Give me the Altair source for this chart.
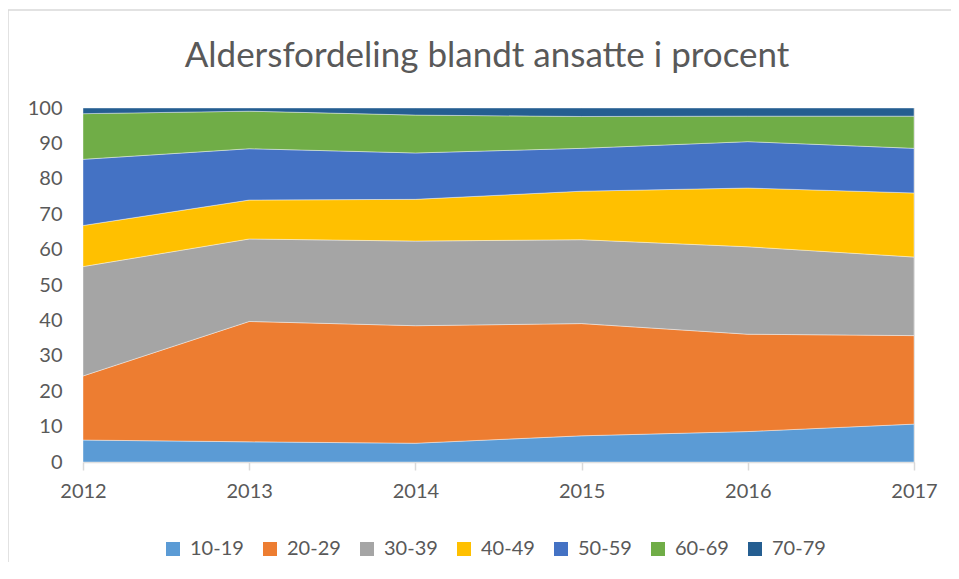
import altair as alt
import pandas as pd

years = [2012, 2013, 2014, 2015, 2016, 2017]
groups = ["10-19", "20-29", "30-39", "40-49", "50-59", "60-69", "70-79"]
colors = ["#5b9bd5", "#ed7d31", "#a5a5a5", "#ffc000", "#4472c4", "#70ad47", "#255e91"]

v_10_19 = [6.2, 5.7, 5.3, 7.4, 8.6, 10.7]
v_20_29 = [18.1, 34.0, 33.2, 31.7, 27.5, 25.0]
v_30_39 = [30.9, 23.3, 23.9, 23.7, 24.7, 22.2]
v_40_49 = [11.6, 11.0, 11.8, 13.7, 16.6, 18.1]
v_50_59 = [18.7, 14.5, 13.1, 12.1, 13.1, 12.6]
v_60_69 = [12.9, 10.6, 10.7, 9.0, 7.2, 9.1]
v_70_79 = [1.6, 0.9, 2.0, 2.4, 2.3, 2.3]

series = [v_10_19, v_20_29, v_30_39, v_40_49, v_50_59, v_60_69, v_70_79]
rows = []
for gi, (g, vals) in enumerate(zip(groups, series)):
    for y, v in zip(years, vals):
        rows.append({"year": y, "group": g, "value": v, "order": gi})
df = pd.DataFrame(rows)

FONT = "Lato"
GREY = "#595959"
W, H = 831, 354

areas = alt.Chart(df).mark_area(
    stroke="#ffffff", strokeWidth=0.8, strokeOpacity=0.5
).encode(
    x=alt.X("year:Q", scale=alt.Scale(domain=[2012, 2017], nice=False, zero=False),
            axis=alt.Axis(values=years, format="d", title=None, grid=False,
                          domain=True, domainColor="#d9d9d9", domainWidth=1.5,
                          ticks=True, tickColor="#d9d9d9", tickSize=8, tickWidth=1.5,
                          labelFont=FONT, labelFontSize=20, labelColor=GREY,
                          labelPadding=11, labelFlush=False)),
    y=alt.Y("value:Q", stack="zero",
            scale=alt.Scale(domain=[0, 100], nice=False),
            axis=alt.Axis(values=list(range(0, 101, 10)), title=None, grid=True,
                          gridColor="#d9d9d9", gridWidth=1, domain=False, ticks=False,
                          labelFont=FONT, labelFontSize=20, labelColor=GREY,
                          labelPadding=21, labelFlush=False)),
    color=alt.Color("group:N", scale=alt.Scale(domain=groups, range=colors),
                    legend=alt.Legend(title=None, orient="none", legendX=80, legendY=431,
                                      direction="horizontal", symbolType="square",
                                      symbolSize=196, symbolStrokeWidth=0,
                                      labelFont=FONT, labelFontSize=20, labelColor=GREY,
                                      labelOffset=7, columnPadding=16, padding=0)),
    order=alt.Order("order:Q", sort="ascending"),
)

title_df = pd.DataFrame({"t": ["Aldersfordeling blandt ansatte i procent"]})
title = alt.Chart(title_df).mark_text(
    font=FONT, fontSize=35, fontWeight=400, color=GREY, baseline="alphabetic", align="center"
).encode(text="t:N", x=alt.value(404), y=alt.value(-41))

one = pd.DataFrame({"a": [0]})
frame_top = alt.Chart(one).mark_rule(color="#d9d9d9", strokeWidth=1.5).encode(
    x=alt.value(-75), x2=alt.value(900), y=alt.value(-98))
frame_left = alt.Chart(one).mark_rule(color="#d9d9d9", strokeWidth=1.5).encode(
    x=alt.value(-75), y=alt.value(-98), y2=alt.value(600))

chart = alt.layer(frame_top, frame_left, areas, title).properties(
    width=W, height=H,
    padding={"left": 75, "top": 100, "right": 37, "bottom": 100},
    autosize=alt.AutoSizeParams(type="none"),
).configure_view(stroke=None).configure(background="white")

chart.save("out.html", embed_options={"renderer": "svg", "actions": False})
